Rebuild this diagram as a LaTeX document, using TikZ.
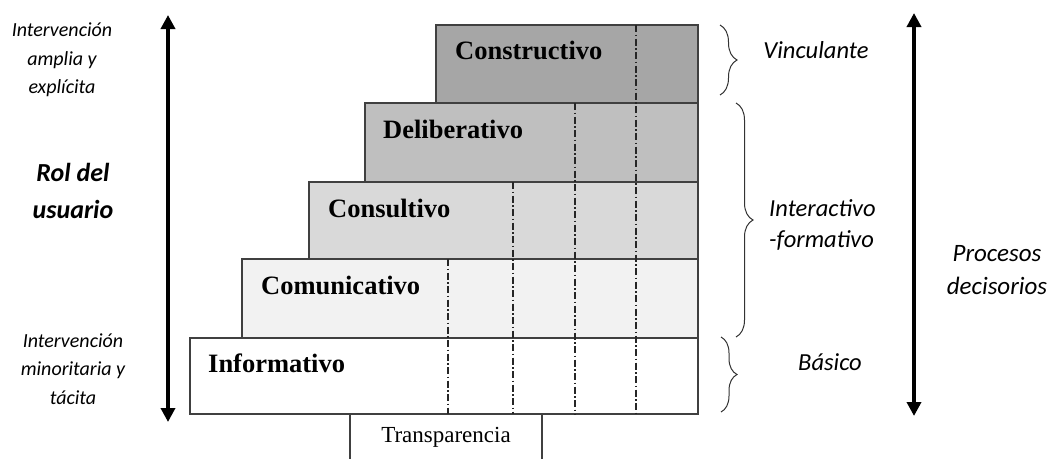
\documentclass[tikz,border=0pt]{standalone}
\usepackage{fontspec}
\setmainfont{Liberation Serif}
\newfontfamily\carl{Carlito}
\usetikzlibrary{arrows.meta,decorations.pathreplacing}
\definecolor{lvA}{HTML}{A6A6A6}
\definecolor{lvB}{HTML}{BFBFBF}
\definecolor{lvC}{HTML}{D9D9D9}
\definecolor{lvD}{HTML}{F2F2F2}
\definecolor{edge}{HTML}{404040}
\begin{document}
\begin{tikzpicture}[x=1pt,y=-1pt,
  levelbox/.style={draw=edge, line width=1.3pt},
  divider/.style={draw=black!85, line width=1.4pt, dash pattern=on 7pt off 2.5pt on 1.5pt off 2.5pt},
  levellab/.style={anchor=base west, inner sep=0pt, font=\bfseries\fontsize{26.5}{30}\selectfont},
  smalllab/.style={align=center, inner sep=0pt, font=\carl\itshape\fontsize{20}{28.5}\selectfont},
  biglab/.style={align=center, inner sep=0pt, font=\carl\itshape\fontsize{24.5}{31}\selectfont},
  bracestyle/.style={draw=black!80, line width=1pt, decorate, decoration={brace, amplitude=#1}},
  bigarrow/.style={line width=4pt, {Triangle[width=14pt,length=14pt]}-{Triangle[width=14pt,length=14pt]}}
]
\useasboundingbox (0,0) rectangle (1052,459);
% level boxes
\draw[levelbox, fill=lvA] (436,25) rectangle (698,103);
\draw[levelbox, fill=lvB] (365,103) rectangle (698,182);
\draw[levelbox, fill=lvC] (309,182) rectangle (698,259);
\draw[levelbox, fill=lvD] (242,259) rectangle (698,338);
\draw[levelbox, fill=white] (190,338) rectangle (698,414);
% transparencia
\draw[levelbox] (350,414) -- (350,459) (542,414) -- (542,459);
\node[inner sep=0pt, font=\fontsize{23}{26}\selectfont] (transp) at (446,437) {Transparencia};
% dividers
\draw[divider] (448,259) -- (448,414);
\draw[divider] (513,182) -- (513,414);
\draw[divider] (575,103) -- (575,414);
\draw[divider] (636,25) -- (636,414);
% level labels
\node[levellab] (constructivo) at (455,59) {Constructivo};
\node[levellab] (deliberativo) at (383,138) {Deliberativo};
\node[levellab] (consultivo) at (328,217) {Consultivo};
\node[levellab] (comunicativo) at (261,294) {Comunicativo};
\node[levellab] (informativo) at (208,372) {Informativo};
% left side
\coordinate (la) at (168,15);
\coordinate (lb) at (168,422);
\draw[bigarrow] (la) -- (lb);
\node[smalllab] (amplia) at (62,60) {Intervención\\amplia y\\explícita};
\node[smalllab, font=\carl\bfseries\itshape\fontsize{26}{37}\selectfont] (rol) at (73,191) {Rol del\\usuario};
\node[smalllab] (minor) at (73,369) {Intervención\\minoritaria y\\tácita};
% right side braces
\coordinate (b1t) at (720,25);
\coordinate (b1b) at (720,95);
\coordinate (b2t) at (736,103);
\coordinate (b2b) at (736,337);
\coordinate (b3t) at (721,337);
\coordinate (b3b) at (721,412);
\draw[bracestyle=17pt] (b1t) -- (b1b);
\draw[bracestyle=17pt] (b2t) -- (b2b);
\draw[bracestyle=16pt] (b3t) -- (b3b);
\node[biglab] (vinc) at (816,50) {Vinculante};
\node[biglab, align=left, anchor=west] (inter) at (769,225) {Interactivo\\-formativo};
\node[biglab] (basico) at (830,362) {Básico};
% right arrow
\coordinate (ra) at (914,13);
\coordinate (rb) at (914,416);
\draw[bigarrow] (ra) -- (rb);
\node[biglab, font=\carl\itshape\fontsize{25}{33}\selectfont] (proc) at (997,270) {Procesos\\decisorios};
\end{tikzpicture}
\end{document}
